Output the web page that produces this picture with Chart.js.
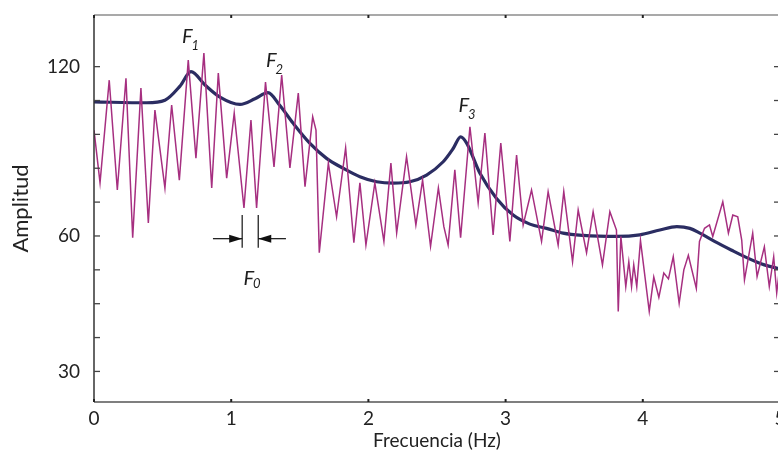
<!DOCTYPE html>
<html>
<head>
<meta charset="utf-8">
<script src="https://cdn.jsdelivr.net/npm/chart.js@4.4.1/dist/chart.umd.min.js"></script>
<style>
  html, body { margin: 0; padding: 0; background: #ffffff; overflow: hidden; width: 778px; height: 452px; }
  #wrap { width: 800px; height: 452px; }
</style>
</head>
<body>
<div id="wrap"><canvas id="c" width="800" height="452"></canvas></div>
<script>
// ---- data ----
const spectrumFreq = [0,0.044,0.111,0.170,0.233,0.282,0.342,0.396,0.444,0.517,0.566,0.622,0.687,0.743,0.801,0.858,0.906,0.967,1.022,1.093,1.144,1.185,1.250,1.312,1.368,1.428,1.489,1.538,1.594,1.618,1.642,1.708,1.768,1.834,1.894,1.938,1.982,2.047,2.113,2.164,2.206,2.278,2.346,2.395,2.453,2.510,2.550,2.581,2.630,2.672,2.740,2.800,2.849,2.909,2.965,3.031,3.080,3.128,3.189,3.262,3.310,3.383,3.424,3.488,3.529,3.590,3.638,3.706,3.760,3.808,3.821,3.840,3.876,3.898,3.918,3.934,3.956,3.983,4.047,4.080,4.117,4.153,4.187,4.222,4.265,4.299,4.332,4.390,4.413,4.450,4.486,4.510,4.583,4.624,4.656,4.692,4.721,4.741,4.801,4.833,4.886,4.922,4.954,4.976,5.0];
const spectrumAmp = [97.5,78.8,115.2,76.3,115.9,59.6,112.4,64.6,104.6,77.0,106.4,79.8,122.3,87.6,124.8,77.0,117.7,80.5,103.5,69.9,101.1,69.9,114.5,84.5,117.0,84.1,110.6,77.5,102.2,97.5,56.3,85.8,66.8,91.2,58.5,78.8,58.0,78.8,58.8,85.8,61.1,88.1,63.9,79.8,57.7,77.0,63.3,58.0,83.4,59.6,98.7,71.7,96.5,60.4,92.9,58.8,88.7,63.9,76.3,58.8,75.7,58.0,75.7,54.3,69.2,56.3,68.6,53.6,68.6,62.1,43.3,59.9,48.8,54.3,48.8,53.6,48.8,59.0,43.3,50.9,46.4,51.8,50.5,55.4,45.1,52.5,55.7,48.4,58.8,62.7,63.9,59.9,72.1,61.0,67.4,66.8,59.1,50.3,61.0,51.0,57.6,48.8,55.4,47.4,53.6];

const envelopeFreq = [0,0.384,0.517,0.627,0.707,0.809,0.918,1.064,1.173,1.268,1.355,1.452,1.574,1.695,1.816,1.938,2.060,2.181,2.302,2.424,2.545,2.618,2.672,2.716,2.813,2.934,3.055,3.177,3.298,3.419,3.565,3.808,3.978,4.124,4.248,4.343,4.416,4.523,4.644,4.765,4.886,5.0];
const envelopeAmp = [107.5,107.2,108.1,113.1,118.2,113.5,109.2,106.6,108.6,110.8,106.2,99.9,92.8,87.5,84.0,81.0,79.2,78.7,79.2,81.6,86.3,91.0,95.1,92.9,82.2,73.3,67.4,64.2,62.7,61.0,60.2,59.9,60.4,62.1,63.3,62.7,61.0,58.8,56.9,55.1,53.6,52.7];

const xTicks = [0, 1, 2, 3, 4, 5];
const yTickValues = [30, 37.5, 45, 52.5, 60, 72, 84, 96, 108, 120];
const yTickLabels = [30, 60, 120];

// formant labels: [freq, amp, subscript]
const formantNames = ['1', '2', '3', '0'];
const formantFreq = [0.641, 1.253, 2.656, 1.089];
const formantAmp = [128.4, 120.0, 104.0, 49.2];
// F0 spacing marker
const f0Bars = [1.080, 1.197];
const f0BarAmp = [57.4, 67.4];
const f0ArrowAmp = 59.4;
const f0ArrowFrom = [0.867, 1.399];

// ---- piecewise amplitude scale (evenly spaced ticks: 30..60 step 7.5, 60..120 step 12) ----
class AmpScale extends Chart.LinearScale {
  toU(v) { return v >= 60 ? 4 + (v - 60) / 12 : (v - 30) / 7.5; }
  fromU(u) { return u >= 4 ? 60 + (u - 4) * 12 : 30 + u * 7.5; }
  buildTicks() { return yTickValues.map(v => ({ value: v })); }
  configure() {
    super.configure();
    this._u0 = this.toU(this.min);
    this._u1 = this.toU(this.max);
  }
  getPixelForValue(v) {
    if (v === null || v === undefined) return NaN;
    return this.getPixelForDecimal((this.toU(v) - this._u0) / (this._u1 - this._u0));
  }
  getValueForPixel(p) {
    return this.fromU(this._u0 + this.getDecimalForPixel(p) * (this._u1 - this._u0));
  }
}
AmpScale.id = 'amp';
AmpScale.defaults = Chart.LinearScale.defaults;
Chart.register(AmpScale);

function seg(ctx, x1, y1, x2, y2) { ctx.beginPath(); ctx.moveTo(x1, y1); ctx.lineTo(x2, y2); ctx.stroke(); }

const framePlugin = {
  id: 'frame',
  afterDatasetsDraw(chart) {
    const { ctx, chartArea: a, scales: { x, y } } = chart;
    ctx.save();
    ctx.lineWidth = 1.5;
    ctx.strokeStyle = '#8c8c8c';
    seg(ctx, a.left, a.top, a.right, a.top);
    seg(ctx, a.right, a.top, a.right, a.bottom);
    ctx.strokeStyle = '#555555';
    seg(ctx, a.left, a.bottom, a.right, a.bottom);
    ctx.strokeStyle = '#333333';
    seg(ctx, a.left, a.top, a.left, a.bottom);
    ctx.lineWidth = 1.3;
    ctx.strokeStyle = '#444444';
    yTickValues.forEach(v => {
      const py = y.getPixelForValue(v);
      seg(ctx, a.left, py, a.left + 6, py);
      seg(ctx, a.right, py, a.right - 6, py);
    });
    ctx.strokeStyle = '#222222';
    ctx.lineWidth = 2;
    xTicks.forEach(v => {
      const px = x.getPixelForValue(v);
      seg(ctx, px, a.top, px, a.top + 3);
      seg(ctx, px, a.bottom, px, a.bottom - 3);
    });
    ctx.restore();
  }
};

const annotPlugin = {
  id: 'annot',
  afterDatasetsDraw(chart) {
    const { ctx, scales: { x, y } } = chart;
    ctx.save();
    ctx.fillStyle = '#1e1e1e';
    ctx.textBaseline = 'alphabetic';
    ctx.textAlign = 'left';
    formantNames.forEach((n, i) => {
      const px = x.getPixelForValue(formantFreq[i]);
      const py = y.getPixelForValue(formantAmp[i]);
      ctx.font = 'italic 20px Lato';
      ctx.fillText('F', px, py);
      const w = ctx.measureText('F').width;
      ctx.font = 'italic 13px Lato';
      ctx.fillText(n, px + w - 1, py + (n === '0' ? 3 : 7));
    });
    // F0 marker
    ctx.strokeStyle = '#111111';
    ctx.fillStyle = '#111111';
    ctx.lineWidth = 1.2;
    const yTop = y.getPixelForValue(f0BarAmp[1]);
    const yBot = y.getPixelForValue(f0BarAmp[0]);
    const ya = y.getPixelForValue(f0ArrowAmp);
    f0Bars.forEach(f => { const px = x.getPixelForValue(f); seg(ctx, px, yTop, px, yBot); });
    f0Bars.forEach((f, i) => {
      const tip = x.getPixelForValue(f);
      const from = x.getPixelForValue(f0ArrowFrom[i]);
      seg(ctx, from, ya, tip, ya);
      const dir = tip > from ? -1 : 1;
      ctx.beginPath();
      ctx.moveTo(tip, ya);
      ctx.lineTo(tip + dir * 13, ya - 4);
      ctx.lineTo(tip + dir * 13, ya + 4);
      ctx.closePath();
      ctx.fill();
    });
    ctx.restore();
  }
};

function draw() {
  new Chart(document.getElementById('c'), {
    type: 'line',
    data: {
      datasets: [
        {
          label: 'Espectro',
          data: spectrumFreq.map((f, i) => ({ x: f, y: spectrumAmp[i] })),
          borderColor: '#a62f80',
          borderWidth: 1.5,
          pointRadius: 0,
          tension: 0,
          fill: false
        },
        {
          label: 'Envolvente',
          data: envelopeFreq.map((f, i) => ({ x: f, y: envelopeAmp[i] })),
          borderColor: '#2b2d62',
          borderWidth: 3.2,
          pointRadius: 0,
          cubicInterpolationMode: 'monotone',
          fill: false
        }
      ]
    },
    options: {
      responsive: false,
      animation: false,
      events: [],
      layout: { padding: { top: 15, right: 20, left: 0, bottom: 0 } },
      plugins: { legend: { display: false }, tooltip: { enabled: false } },
      scales: {
        x: {
          type: 'linear',
          min: 0, max: 5,
          afterBuildTicks: s => { s.ticks = xTicks.map(v => ({ value: v })); },
          afterFit: s => { s.height = 50; s.paddingLeft = 0; s.paddingRight = 0; },
          grid: { display: false, drawTicks: false },
          border: { display: false },
          ticks: {
            padding: 5,
            color: '#222222',
            font: { family: 'Lato', size: 19 },
            maxRotation: 0,
            autoSkip: false,
            callback: v => String(v)
          },
          title: {
            display: true,
            text: 'Frecuencia (Hz)',
            color: '#222222',
            font: { family: 'Lato', size: 19 },
            padding: { top: 0, bottom: 0 }
          }
        },
        y: {
          type: 'amp',
          min: 23.23, max: 138.3,
          afterFit: s => { s.width = 94; s.paddingTop = 0; s.paddingBottom = 0; },
          grid: { display: false, drawTicks: false },
          border: { display: false },
          ticks: {
            padding: 14,
            color: '#222222',
            autoSkip: false,
            font: { family: 'Lato', size: 19 },
            callback: v => (yTickLabels.includes(v) ? String(v) : '')
          },
          title: {
            display: true,
            text: 'Amplitud',
            color: '#222222',
            font: { family: 'Lato', size: 22 },
            padding: { top: 8, bottom: 0 }
          }
        }
      }
    },
    plugins: [framePlugin, annotPlugin]
  });
}

Promise.all([
  document.fonts.load('18px Lato'),
  document.fonts.load('italic 19px Lato')
]).then(draw, draw);
</script>
</body>
</html>
